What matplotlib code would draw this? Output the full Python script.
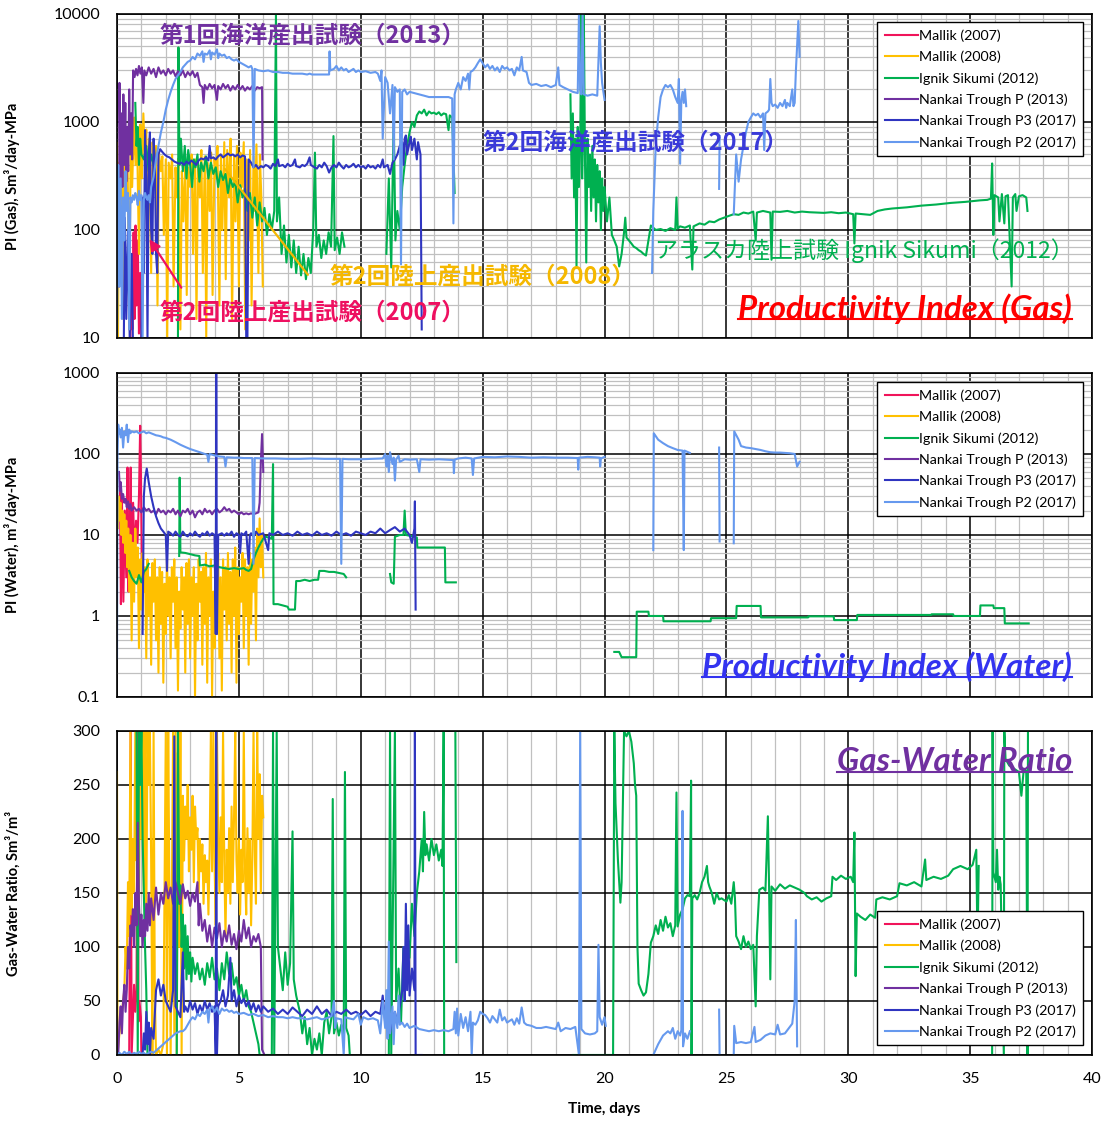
import matplotlib
matplotlib.use("Agg")
import matplotlib.pyplot as plt
from matplotlib.ticker import MultipleLocator, LogLocator, NullFormatter, FuncFormatter
from matplotlib.lines import Line2D

plt.rcParams["font.family"] = ["Lato", "Noto Sans CJK JP", "DejaVu Sans"]

NA = float("nan")

# ---------------- series (time [days], value) ----------------
names = ["Mallik (2007)", "Mallik (2008)", "Ignik Sikumi (2012)",
         "Nankai Trough P (2013)", "Nankai Trough P3 (2017)", "Nankai Trough P2 (2017)"]
colors = ["#f0145a", "#ffc000", "#00b050", "#7030a0", "#2f35c0", "#6699ee"]

# PI (Gas)
gas_mallik07 = [(0.55, 10), (0.6, 60), (0.63, 12), (0.68, 95), (0.72, 15), (0.76, 110), (0.8, 20),
                (0.85, 80), (0.9, 11), (0.95, 40), (1.0, 10)]
gas_mallik08 = [(0.00, 640), (0.04, 10), (0.08, 420), (0.12, 180), (0.18, 700), (0.25, 15), (0.30, 550),
                (0.36, 300), (0.42, 900), (0.50, 12), (0.56, 600), (0.62, 250), (0.70, 1100), (0.76, 400),
                (0.82, 800), (0.90, 60), (0.96, 950), (1.02, 300), (1.08, 1200), (1.14, 500), (1.20, 850),
                (1.26, 150), (1.32, 700), (1.40, 40), (1.46, 650), (1.52, 250), (1.60, 600), (1.66, 20),
                (1.72, 520), (1.80, 350), (1.86, 480), (1.92, 90), (2.00, 450), (2.06, 10), (2.12, 420),
                (2.20, 300), (2.26, 500), (2.32, 30), (2.40, 380), (2.46, 200), (2.52, 460), (2.60, 12),
                (2.66, 350), (2.72, 120), (2.80, 420), (2.86, 25), (2.92, 380), (3.00, 250), (3.06, 500),
                (3.12, 60), (3.20, 450), (3.26, 15), (3.32, 400), (3.40, 200), (3.46, 550), (3.52, 40),
                (3.60, 480), (3.66, 10), (3.72, 420), (3.80, 150), (3.86, 520), (3.92, 25), (4.00, 460),
                (4.06, 300), (4.12, 600), (4.20, 20), (4.26, 500), (4.32, 100), (4.40, 650), (4.46, 35),
                (4.52, 550), (4.60, 200), (4.66, 700), (4.72, 15), (4.80, 480), (4.86, 120), (4.92, 600),
                (5.00, 30), (5.06, 520), (5.12, 250), (5.20, 650), (5.26, 12), (5.32, 450), (5.40, 80),
                (5.46, 550), (5.52, 20), (5.60, 480), (5.66, 150), (5.72, 620), (5.80, 40), (5.86, 500),
                (5.92, 200), (5.98, 30)]
gas_ignik = [(0.75, 1500), (0.8, 600), (0.85, 900), (0.9, 400), (0.95, 700), (1.0, 500), (1.1, 450),
             (1.2, 600), (1.3, 350), (1.4, 500), (1.5, 400), (NA, NA),
             (2.50, 10), (2.52, 4900), (2.56, 400), (2.62, 700), (2.70, 350), (2.78, 600), (2.85, 300),
             (2.92, 550), (3.00, 400), (3.08, 250), (3.15, 450), (3.22, 380), (3.30, 500), (3.38, 280),
             (3.45, 420), (3.55, 350), (3.65, 480), (3.75, 300), (3.85, 420), (3.95, 330), (4.05, 380),
             (4.15, 250), (4.25, 350), (4.35, 290), (4.45, 330), (4.55, 220), (4.65, 300), (4.75, 250),
             (4.85, 280), (4.95, 180), (5.05, 260), (5.15, 200), (5.25, 240), (5.35, 150), (5.45, 220),
             (5.55, 130), (5.65, 200), (5.75, 110), (5.85, 180), (5.95, 120), (6.05, 160), (6.15, 90),
             (6.25, 140), (6.35, 100), (6.45, 150), (6.52, 10000), (6.56, 120), (6.65, 200), (6.75, 60),
             (6.85, 110), (6.95, 50), (7.05, 90), (7.15, 45), (7.25, 80), (7.35, 40), (7.45, 70),
             (7.55, 38), (7.65, 60), (7.75, 35), (7.85, 55), (7.95, 40), (8.05, 100), (8.12, 520),
             (8.18, 70), (8.28, 90), (8.38, 55), (8.48, 80), (8.58, 60), (8.68, 95), (8.78, 70),
             (8.88, 740), (8.93, 65), (9.03, 85), (9.13, 60), (9.23, 95), (9.33, 70), (NA, NA),
             (11.05, 60), (11.15, 300), (11.25, 45), (11.35, 1200), (11.42, 80), (11.5, 150), (11.6, 100),
             (11.7, 250), (11.8, 400), (11.9, 600), (12.0, 800), (12.1, 1000), (12.2, 900), (12.3, 1150),
             (12.4, 1250), (12.5, 1200), (12.6, 1300), (12.7, 1150), (12.8, 1250), (12.9, 1200),
             (13.0, 1220), (13.1, 1180), (13.2, 1230), (13.3, 1150), (13.4, 1200), (13.5, 1180),
             (13.6, 840), (13.65, 1150), (13.75, 1100), (13.85, 220), (NA, NA),
             (18.6, 1800), (18.65, 300), (18.7, 1200), (18.75, 200), (18.8, 700), (18.85, 46), (18.9, 900),
             (18.95, 250), (19.0, 600), (19.05, 10000), (19.08, 300), (19.12, 800), (19.15, 10000),
             (19.2, 400), (19.25, 50), (19.3, 700), (19.35, 250), (19.4, 500), (19.45, 150), (19.5, 600),
             (19.55, 200), (19.6, 450), (19.65, 120), (19.7, 400), (19.75, 180), (19.8, 350), (19.85, 100),
             (19.9, 300), (19.95, 150), (20.0, 250), (20.1, 120), (20.2, 200), (20.3, 90), (20.4, 80),
             (20.5, 70), (20.6, 46), (20.7, 60), (20.8, 95), (20.85, 130), (20.9, 85), (21.0, 80),
             (21.1, 75), (21.2, 70), (21.3, 68), (21.4, 65), (21.5, 63), (21.6, 60), (21.7, 58),
             (21.8, 80), (21.9, 110), (22.0, 105), (22.1, 100), (22.3, 102), (22.5, 98), (22.7, 104),
             (22.9, 100), (22.95, 200), (23.0, 103), (23.1, 108), (23.3, 105), (23.5, 110), (23.6, 43),
             (23.65, 108), (23.9, 115), (24.1, 112), (24.3, 120), (24.5, 118), (24.7, 125), (24.9, 130),
             (25.1, 135), (25.3, 140), (25.5, 138), (25.7, 145), (25.9, 142), (26.1, 148), (26.2, 80),
             (26.25, 145), (26.5, 150), (26.8, 145), (26.85, 53), (26.9, 148), (27.2, 147), (27.5, 150),
             (27.8, 145), (28.1, 148), (28.4, 146), (28.7, 145), (29.0, 144), (29.3, 146), (29.6, 143),
             (29.9, 145), (30.2, 140), (30.25, 75), (30.3, 142), (30.6, 140), (30.9, 138), (31.2, 150),
             (31.5, 155), (31.8, 158), (32.1, 160), (32.4, 162), (32.7, 165), (33.0, 168), (33.3, 170),
             (33.6, 172), (33.9, 175), (34.2, 178), (34.5, 180), (34.8, 182), (35.1, 185), (35.4, 188),
             (35.7, 190), (35.85, 195), (35.9, 413), (35.95, 90), (36.0, 210), (36.15, 200), (36.2, 120),
             (36.3, 215), (36.4, 115), (36.45, 205), (36.55, 210), (36.7, 30), (36.75, 200),
             (36.85, 215), (36.9, 150), (37.0, 205), (37.15, 210), (37.3, 200), (37.35, 150)]
gas_nankai_p = [(0.08, 30), (0.1, 2300), (0.14, 300), (0.18, 1200), (0.22, 250), (0.26, 1800), (0.3, 400),
                (0.34, 1500), (0.38, 280), (0.42, 900), (0.46, 350), (0.5, 2000), (0.54, 500), (0.58, 1200),
                (0.62, 450), (0.66, 3000), (0.72, 2600), (0.78, 3100), (0.84, 2700), (0.9, 3300),
                (0.96, 2800), (1.02, 3200), (1.08, 1500), (1.12, 3000), (1.2, 2700), (1.3, 3200),
                (1.4, 2800), (1.5, 3100), (1.6, 2600), (1.7, 3200), (1.8, 2800), (1.9, 3000), (2.0, 2700),
                (2.1, 3100), (2.2, 2800), (2.3, 3000), (2.4, 2650), (2.5, 2950), (2.6, 2700), (2.7, 3000),
                (2.8, 2600), (2.9, 2900), (3.0, 2700), (3.1, 2950), (3.2, 2600), (3.3, 2850), (3.4, 2200),
                (3.5, 2100), (3.55, 1500), (3.6, 2200), (3.7, 2000), (3.8, 2250), (3.9, 2050), (4.0, 2200),
                (4.1, 1600), (4.15, 2150), (4.25, 2000), (4.35, 2250), (4.45, 2050), (4.55, 2200),
                (4.65, 1950), (4.75, 2150), (4.85, 2000), (4.95, 2200), (5.05, 2000), (5.15, 2150),
                (5.25, 1950), (5.35, 2100), (5.45, 2000), (5.55, 2150), (5.65, 1950), (5.75, 2100),
                (5.85, 2050), (5.95, 2100), (5.97, 450)]
gas_nankai_p3 = [(0.28, 10), (0.32, 130), (0.38, 15), (0.45, 100), (0.52, 10), (0.6, 60), (0.65, 10),
                 (NA, NA), (1.0, 10), (1.05, 200), (1.1, 40), (1.15, 840), (1.2, 300), (1.25, 10),
                 (1.3, 500), (1.35, 800), (1.4, 100), (1.45, 60), (1.5, 700), (1.55, 450), (1.6, 60),
                 (1.65, 40), (1.7, 500), (1.77, 560), (1.85, 530), (1.95, 500), (2.05, 480), (2.15, 470),
                 (2.25, 450), (2.35, 430), (2.45, 420), (2.55, 410), (2.65, 420), (2.75, 400), (2.85, 430),
                 (2.95, 410), (3.05, 440), (3.15, 420), (3.25, 400), (3.35, 440), (3.45, 460), (3.55, 450),
                 (3.65, 470), (3.75, 440), (3.8, 600), (3.85, 460), (3.95, 470), (4.05, 450), (4.15, 480),
                 (4.25, 500), (4.35, 470), (4.45, 490), (4.55, 510), (4.65, 490), (4.75, 500), (4.85, 480),
                 (4.95, 500), (5.05, 470), (5.15, 490), (5.25, 480), (5.3, 10), (5.35, 10), (5.4, 450),
                 (5.5, 420), (5.6, 380), (5.7, 400), (5.8, 370), (5.9, 390), (6.0, 380), (6.1, 400),
                 (6.2, 390), (6.3, 370), (6.4, 410), (6.5, 390), (6.6, 450), (6.65, 390), (6.8, 400),
                 (6.9, 380), (7.0, 410), (7.1, 390), (7.2, 400), (7.3, 450), (7.35, 390), (7.5, 380),
                 (7.6, 400), (7.7, 390), (7.8, 410), (7.9, 470), (7.95, 400), (8.1, 380), (8.2, 370),
                 (8.3, 400), (8.4, 380), (8.5, 420), (8.6, 390), (8.7, 340), (8.8, 380), (8.9, 400),
                 (9.0, 380), (9.1, 420), (9.2, 390), (9.3, 370), (9.4, 400), (9.5, 380), (9.6, 390),
                 (9.7, 410), (9.8, 380), (9.9, 400), (10.0, 380), (10.1, 390), (10.2, 370), (10.3, 400),
                 (10.4, 380), (10.5, 390), (10.6, 370), (10.7, 400), (10.8, 380), (10.9, 450), (10.95, 380),
                 (11.1, 400), (11.2, 330), (11.3, 420), (11.4, 450), (11.5, 500), (11.6, 600), (11.7, 650),
                 (11.75, 400), (11.8, 700), (11.85, 750), (11.9, 500), (12.0, 650), (12.05, 730),
                 (12.1, 550), (12.2, 700), (12.3, 450), (12.35, 650), (12.45, 500), (12.5, 12)]
gas_nankai_p2 = [(0.0, 10), (0.05, 400), (0.1, 30), (0.15, 300), (0.2, 15), (0.25, 200), (0.3, 80),
                 (0.35, 350), (0.4, 150), (0.45, 220), (0.5, 12), (0.55, 200), (0.6, 180), (0.65, 210),
                 (0.7, 190), (0.75, 220), (0.8, 200), (0.85, 170), (0.9, 230), (0.95, 190), (1.0, 210),
                 (1.05, 10), (1.1, 190), (1.15, 220), (1.2, 200), (1.25, 190), (1.3, 210), (1.35, 180),
                 (1.4, 250), (1.5, 310), (1.6, 450), (1.7, 600), (1.8, 800), (1.9, 1000), (2.0, 1300),
                 (2.1, 1600), (2.2, 1900), (2.3, 2200), (2.4, 2500), (2.5, 2700), (2.6, 2900), (2.7, 3200),
                 (2.8, 3400), (2.9, 3600), (3.0, 3700), (3.1, 4000), (3.2, 3800), (3.3, 4300), (3.4, 4100),
                 (3.5, 4500), (3.55, 3600), (3.6, 4300), (3.7, 4200), (3.8, 4600), (3.85, 3800),
                 (3.9, 4400), (4.0, 4200), (4.1, 4700), (4.15, 3900), (4.2, 4300), (4.3, 4100), (4.4, 4200),
                 (4.5, 3900), (4.6, 4000), (4.7, 3800), (4.8, 3700), (4.9, 3800), (5.0, 3600), (5.1, 3500),
                 (5.2, 3400), (5.3, 3300), (5.4, 3200), (5.5, 3300), (5.55, 3100), (5.6, 380), (5.65, 3100),
                 (5.8, 3000), (6.0, 2950), (6.2, 3000), (6.4, 2900), (6.6, 2900), (6.8, 2850), (7.0, 2850),
                 (7.2, 2800), (7.4, 2800), (7.6, 2800), (7.8, 2750), (7.9, 2800), (8.0, 2750), (8.2, 2750),
                 (8.4, 2750), (8.6, 2750), (8.7, 2750), (8.72, 4500), (8.75, 3000), (8.9, 3100),
                 (9.0, 3300), (9.1, 3000), (9.2, 3200), (9.3, 3000), (9.4, 3100), (9.5, 2900), (9.6, 3000),
                 (9.7, 3100), (9.8, 2900), (9.9, 3000), (10.0, 2900), (10.2, 2950), (10.4, 2850),
                 (10.6, 2900), (10.7, 2800), (10.8, 2400), (10.85, 3000), (10.9, 700), (11.0, 2600),
                 (11.1, 2300), (11.2, 1200), (11.3, 2200), (11.35, 450), (11.4, 2100), (11.5, 1900),
                 (11.6, 2000), (11.65, 48), (11.7, 1900), (11.8, 2000), (11.9, 1800), (12.0, 1900),
                 (12.2, 1850), (12.4, 1800), (12.6, 1750), (12.8, 1700), (13.0, 1700), (13.2, 1700),
                 (13.4, 1700), (13.6, 1700), (13.75, 1650), (13.8, 115), (13.85, 1800), (13.9, 2000),
                 (14.0, 2300), (14.1, 2000), (14.2, 2600), (14.3, 2400), (14.4, 2800), (14.45, 2000),
                 (14.5, 2900), (14.6, 3000), (14.7, 3200), (14.8, 3500), (14.9, 3800), (15.0, 3500),
                 (15.1, 3200), (15.2, 3400), (15.3, 3100), (15.4, 3300), (15.5, 3000), (15.6, 3200),
                 (15.7, 2900), (15.8, 3300), (15.9, 3100), (16.0, 3200), (16.1, 3000), (16.2, 3100),
                 (16.3, 2700), (16.4, 3200), (16.5, 3000), (16.6, 4000), (16.65, 3000), (16.8, 2900),
                 (16.9, 2300), (17.0, 2200), (17.2, 2250), (17.4, 2150), (17.6, 2200), (17.8, 2100),
                 (18.0, 2200), (18.1, 3200), (18.15, 2200), (18.3, 2100), (18.5, 2000), (18.7, 1900),
                 (18.9, 1850), (18.95, 10000), (19.0, 2000), (19.05, 1800), (19.1, 10000), (19.15, 1800),
                 (19.3, 1750), (19.5, 1800), (19.7, 1750), (19.8, 7700), (19.85, 3500), (19.9, 2300),
                 (20.0, 1600), (NA, NA),
                 (21.95, 40), (22.0, 150), (22.1, 600), (22.2, 1100), (22.3, 1700), (22.4, 2000),
                 (22.5, 2200), (22.6, 2100), (22.7, 2200), (22.8, 2000), (22.9, 1700), (23.0, 1500),
                 (23.05, 2500), (23.1, 410), (23.15, 1600), (23.2, 1900), (23.25, 1500), (23.3, 2000),
                 (23.35, 1400), (NA, NA), (24.7, 240), (24.72, 740), (NA, NA),
                 (25.3, 140), (25.4, 500), (25.5, 280), (25.6, 450), (25.7, 600), (25.8, 800), (25.9, 1000),
                 (26.0, 1100), (26.1, 1200), (26.2, 1150), (26.3, 1190), (26.4, 1100), (26.5, 1200),
                 (26.55, 550), (26.6, 1200), (26.7, 1250), (26.75, 1300), (26.8, 2500), (26.85, 1500),
                 (26.9, 1400), (27.0, 1450), (27.1, 1350), (27.2, 1500), (27.3, 1400), (27.4, 1600),
                 (27.45, 1350), (27.5, 1500), (27.6, 1400), (27.7, 2000), (27.75, 1400), (27.8, 1500),
                 (27.85, 3000), (27.9, 5000), (27.95, 8600), (28.0, 4000)]

# PI (Water)
wat_mallik07 = [(0.12, 40), (0.16, 1.4), (0.2, 30), (0.26, 1.5), (0.32, 20), (0.38, 3), (0.43, 68),
                (0.47, 2), (0.52, 10), (0.56, 68), (0.6, 3), (0.66, 25), (0.72, 5), (0.78, 15), (0.84, 8),
                (0.9, 30), (0.95, 223), (0.98, 60), (1.02, 3)]
wat_mallik08 = [(0.00, 35), (0.03, 12), (0.06, 30), (0.1, 15), (0.14, 25), (0.18, 10), (0.22, 20),
                (0.26, 8), (0.3, 18), (0.34, 6), (0.38, 15), (0.42, 4), (0.46, 12), (0.5, 2), (0.55, 10),
                (0.6, 0.5), (0.65, 8), (0.7, 1.5), (0.75, 12), (0.8, 3), (0.85, 7), (0.9, 0.4), (0.95, 5),
                (1.0, 1.2), (1.05, 6), (1.1, 2), (1.15, 4), (1.2, 0.3), (1.25, 5), (1.3, 1), (1.35, 3),
                (1.4, 0.25), (1.45, 4.5), (1.5, 1.5), (1.55, 5), (1.6, 0.5), (1.65, 3), (1.7, 0.2),
                (1.75, 4), (1.8, 0.8), (1.85, 3.5), (1.9, 0.15), (1.95, 2.5), (2.0, 0.6), (2.05, 5),
                (2.1, 1), (2.15, 3), (2.2, 0.3), (2.25, 4), (2.3, 1.5), (2.35, 5), (2.4, 0.4), (2.45, 3),
                (2.5, 0.12), (2.55, 2), (2.6, 0.7), (2.65, 4), (2.7, 1.2), (2.75, 3), (2.8, 0.2),
                (2.85, 4.5), (2.9, 0.8), (2.95, 5), (3.0, 0.3), (3.05, 3), (3.1, 1), (3.15, 4), (3.2, 0.1),
                (3.25, 2.5), (3.3, 0.5), (3.35, 5), (3.4, 1.5), (3.45, 3.5), (3.5, 0.25), (3.55, 4),
                (3.6, 0.8), (3.65, 6), (3.7, 0.15), (3.75, 3), (3.8, 1), (3.85, 5), (3.9, 0.1), (3.95, 2),
                (4.0, 0.4), (4.05, 4), (4.1, 1.5), (4.15, 6), (4.2, 0.3), (4.25, 3), (4.3, 0.12), (4.35, 5),
                (4.4, 1.2), (4.45, 4), (4.5, 0.5), (4.55, 6), (4.6, 0.8), (4.65, 3.5), (4.7, 0.2), (4.75, 5),
                (4.8, 1), (4.85, 7), (4.9, 0.15), (4.95, 4), (5.0, 0.6), (5.05, 3), (5.1, 1.5), (5.15, 6),
                (5.2, 0.4), (5.25, 5), (5.3, 1), (5.35, 4), (5.4, 0.25), (5.45, 6), (5.5, 0.8), (5.55, 5),
                (5.6, 2), (5.65, 7), (5.7, 0.5), (5.75, 12), (5.8, 3), (5.85, 16), (5.9, 4), (5.95, 10),
                (6.0, 3)]
wat_ignik = [(0.5, 3.6), (0.6, 3.0), (0.7, 2.7), (0.8, 2.5), (0.9, 3.2), (1.0, 2.6), (1.1, 3.5), (1.2, 3.8),
             (1.3, 4.4), (NA, NA),
             (2.55, 5.5), (2.57, 51), (2.6, 6.1), (2.8, 6.0), (3.0, 5.8), (3.2, 5.6), (3.38, 5.5),
             (3.4, 4.2), (3.6, 4.3), (3.8, 4.1), (4.0, 4.2), (4.2, 4.0), (4.4, 3.9), (4.6, 3.8), (4.8, 3.9),
             (5.0, 3.8), (5.2, 3.9), (5.3, 3.7), (5.4, 3.6), (5.5, 3.8), (5.6, 5), (5.7, 6), (5.8, 7),
             (5.9, 8), (6.0, 9), (6.1, 9.5), (6.35, 9), (6.4, 75), (6.42, 1.4), (6.6, 1.4), (6.8, 1.35),
             (7.0, 1.3), (7.05, 1.2), (7.2, 1.2), (7.3, 1.2), (7.35, 2.7), (7.5, 2.7), (7.7, 2.8),
             (7.9, 2.7), (8.1, 2.8), (8.25, 2.8), (8.3, 3.6), (8.5, 3.6), (8.7, 3.5), (8.9, 3.5),
             (9.1, 3.4), (9.3, 3.3), (9.4, 3.0), (NA, NA),
             (11.2, 3.3), (11.25, 2.6), (11.35, 2.5), (11.4, 9.5), (11.6, 10), (11.75, 10), (11.8, 20),
             (11.85, 10), (12.0, 9.8), (12.2, 9.5), (12.3, 9.3), (12.32, 7), (12.6, 7), (12.9, 7),
             (13.2, 7), (13.45, 7), (13.47, 2.6), (13.7, 2.6), (13.9, 2.6), (NA, NA),
             (20.4, 0.36), (20.6, 0.36), (20.7, 0.31), (21.0, 0.31), (21.3, 0.31), (21.32, 1.13),
             (21.8, 1.13), (21.82, 1.0), (22.4, 1.0), (22.42, 0.86), (24.35, 0.86), (24.37, 0.94),
             (25.4, 0.94), (25.42, 1.33), (26.4, 1.33), (26.42, 0.96), (28.35, 0.96), (28.37, 0.99),
             (29.4, 0.99), (29.42, 0.89), (30.35, 0.89), (30.37, 1.03), (33.4, 1.03), (33.42, 1.05),
             (34.3, 1.05), (34.32, 1.0), (35.4, 1.0), (35.42, 1.35), (35.95, 1.35), (35.97, 1.25),
             (36.4, 1.25), (36.42, 0.81), (37.4, 0.81)]
wat_nankai_p = [(0.08, 60), (0.12, 35), (0.15, 45), (0.2, 28), (0.25, 32), (0.3, 25), (0.35, 28), (0.4, 22),
                (0.45, 26), (0.5, 21), (0.55, 24), (0.6, 20), (0.7, 22), (0.8, 20), (0.9, 21), (1.0, 19),
                (1.1, 22), (1.2, 20), (1.3, 21), (1.4, 19), (1.5, 20), (1.6, 18), (1.7, 21), (1.8, 19),
                (1.9, 20), (2.0, 18), (2.1, 20), (2.2, 19), (2.3, 21), (2.4, 18), (2.5, 20), (2.6, 17),
                (2.7, 20), (2.8, 19), (2.9, 21), (3.0, 18), (3.1, 20), (3.2, 16.5), (3.3, 19), (3.4, 20),
                (3.5, 18), (3.6, 21), (3.7, 19), (3.8, 20), (3.9, 18), (4.0, 20), (4.1, 21), (4.2, 19),
                (4.3, 20), (4.4, 22), (4.5, 20), (4.6, 21), (4.7, 19), (4.8, 20), (4.9, 19), (5.0, 18),
                (5.1, 19), (5.2, 18), (5.3, 18.5), (5.4, 18), (5.5, 18.5), (5.6, 18), (5.7, 18.5),
                (5.8, 19), (5.85, 25), (5.9, 80), (5.95, 176), (6.0, 60)]
wat_nankai_p3 = [(1.05, 0.6), (1.1, 30), (1.15, 50), (1.22, 66), (1.3, 45), (1.4, 30), (1.5, 22), (1.6, 17),
                 (1.7, 14), (1.8, 12), (1.9, 11), (2.0, 10), (2.05, 3.6), (2.1, 11), (2.2, 10.5), (2.3, 9.8),
                 (2.4, 11), (2.5, 10), (2.6, 9.5), (2.7, 11), (2.8, 10), (2.9, 9.6), (3.0, 10.5), (3.1, 9.8),
                 (3.2, 11), (3.3, 10), (3.4, 9.5), (3.5, 10.5), (3.6, 10), (3.7, 11), (3.8, 9.8),
                 (3.9, 10.5), (4.0, 10), (4.05, 0.6), (4.07, 1000), (4.1, 0.6), (4.15, 10), (4.3, 10.5),
                 (4.4, 9.8), (4.5, 10.5), (4.6, 10), (4.7, 11), (4.8, 9.5), (4.9, 10.5), (5.0, 10),
                 (5.05, 6), (5.1, 10.5), (5.2, 10), (5.3, 11), (5.4, 4.4), (5.45, 10), (5.5, 10.5),
                 (5.6, 9.5), (5.7, 11), (5.8, 10), (6.0, 10.5), (6.2, 6.5), (6.25, 10.5), (6.4, 10),
                 (6.6, 11), (6.8, 10), (7.0, 10.5), (7.2, 9.8), (7.4, 11), (7.6, 10), (7.8, 10.5),
                 (8.0, 9.8), (8.2, 11), (8.4, 10), (8.6, 10.5), (8.8, 9.8), (9.0, 11), (9.2, 10),
                 (9.4, 10.5), (9.6, 9.8), (9.8, 11), (10.0, 10.5), (10.2, 10), (10.4, 11), (10.6, 10.5),
                 (10.8, 12), (11.0, 10.5), (11.2, 11.5), (11.4, 12.5), (11.6, 11), (11.8, 12), (12.0, 10),
                 (12.1, 8), (12.2, 12), (12.22, 26), (12.25, 1.2)]
wat_nankai_p2 = [(0.0, 0.3), (0.02, 100), (0.05, 230), (0.08, 180), (0.1, 200), (0.15, 160), (0.2, 210),
                 (0.25, 120), (0.3, 190), (0.35, 170), (0.4, 230), (0.45, 140), (0.5, 200), (0.55, 180),
                 (0.6, 190), (0.7, 185), (0.8, 190), (0.9, 180), (1.0, 185), (1.1, 190), (1.2, 180),
                 (1.3, 185), (1.4, 180), (1.5, 175), (1.6, 170), (1.7, 168), (1.8, 165), (1.9, 160),
                 (2.0, 158), (2.2, 150), (2.4, 140), (2.6, 130), (2.8, 122), (3.0, 115), (3.2, 110),
                 (3.4, 105), (3.6, 100), (3.7, 98), (3.75, 80), (3.8, 100), (4.0, 96), (4.2, 93), (4.4, 92),
                 (4.45, 70), (4.5, 91), (4.8, 90), (5.0, 90), (5.2, 89), (5.4, 89), (5.55, 89), (5.6, 4.4),
                 (5.65, 89), (6.0, 88), (6.5, 88), (7.0, 87), (7.5, 87), (8.0, 88), (8.5, 87), (9.0, 87),
                 (9.15, 87), (9.2, 4.4), (9.25, 87), (9.5, 86), (10.0, 86), (10.5, 87), (10.9, 88),
                 (11.0, 100), (11.05, 70), (11.1, 95), (11.15, 60), (11.2, 105), (11.3, 75), (11.35, 90),
                 (11.4, 47), (11.45, 85), (11.55, 95), (11.6, 80), (11.8, 86), (12.0, 85), (12.3, 86),
                 (12.4, 60), (12.45, 86), (12.8, 85), (13.2, 86), (13.5, 85), (13.8, 84), (13.82, 58),
                 (13.85, 85), (14.0, 88), (14.3, 90), (14.55, 88), (14.6, 55), (14.65, 88), (15.0, 92),
                 (15.5, 91), (16.0, 93), (16.5, 92), (17.0, 90), (17.5, 91), (18.0, 90), (18.5, 90),
                 (18.9, 89), (18.92, 64), (18.95, 90), (19.3, 92), (19.6, 91), (19.8, 90), (19.82, 70),
                 (19.85, 88), (20.0, 92), (NA, NA),
                 (22.0, 6.5), (22.02, 180), (22.2, 150), (22.4, 136), (22.6, 125), (22.8, 118), (23.0, 112),
                 (23.2, 110), (23.25, 6.5), (23.28, 110), (23.5, 103), (NA, NA),
                 (24.7, 120), (24.72, 8.3), (NA, NA),
                 (25.3, 7.9), (25.32, 190), (25.5, 150), (25.6, 125), (25.8, 120), (26.0, 118), (26.2, 115),
                 (26.4, 112), (26.6, 108), (26.8, 105), (27.0, 104), (27.2, 104), (27.4, 103), (27.6, 102),
                 (27.8, 100), (27.9, 70), (28.0, 80)]

# Gas-Water Ratio
gwr_mallik07 = [(0.5, 0), (0.56, 300), (0.6, 0), (0.7, 65), (0.75, 40), (0.8, 60), (0.85, 300), (0.88, 31),
                (0.92, 50), (0.98, 35), (1.0, 0)]
gwr_mallik08 = [(0.0, 262), (0.02, 0), (0.1, 20), (0.2, 40), (0.3, 60), (0.35, 100), (0.4, 80), (0.45, 160),
                (0.5, 110), (0.55, 300), (0.6, 130), (0.65, 200), (0.7, 150), (0.75, 300), (0.8, 180),
                (0.85, 250), (0.9, 140), (0.95, 300), (1.0, 200), (1.05, 300), (1.1, 150), (1.15, 300),
                (1.2, 120), (1.25, 300), (1.3, 250), (1.35, 300), (1.4, 180), (1.45, 0), (1.5, 300),
                (1.55, 60), (1.6, 0), (1.7, 5), (1.8, 0), (1.9, 10), (2.0, 300), (2.05, 0), (2.1, 300),
                (2.15, 150), (2.2, 0), (2.3, 300), (2.35, 20), (2.4, 300), (2.45, 0), (2.5, 280),
                (2.55, 100), (2.6, 300), (2.65, 0), (2.7, 240), (2.75, 180), (2.8, 230), (2.85, 200),
                (2.9, 250), (2.95, 170), (3.0, 220), (3.05, 190), (3.1, 240), (3.15, 160), (3.2, 230),
                (3.25, 200), (3.3, 210), (3.35, 150), (3.4, 200), (3.45, 170), (3.5, 195), (3.55, 140),
                (3.6, 185), (3.65, 160), (3.7, 180), (3.75, 130), (3.8, 190), (3.85, 300), (3.9, 170),
                (3.95, 300), (4.0, 180), (4.05, 120), (4.1, 300), (4.15, 200), (4.2, 150), (4.25, 220),
                (4.3, 160), (4.35, 300), (4.4, 180), (4.45, 110), (4.5, 190), (4.55, 150), (4.6, 210),
                (4.65, 140), (4.7, 230), (4.75, 160), (4.8, 220), (4.85, 300), (4.9, 180), (4.95, 150),
                (5.0, 200), (5.05, 130), (5.1, 190), (5.15, 160), (5.2, 300), (5.25, 170), (5.3, 130),
                (5.35, 210), (5.4, 150), (5.45, 200), (5.5, 120), (5.55, 180), (5.6, 300), (5.65, 190),
                (5.7, 140), (5.75, 300), (5.8, 200), (5.85, 260), (5.9, 150), (5.95, 240), (6.0, 220)]
gwr_ignik = [(0.8, 300), (0.85, 0), (0.9, 300), (0.95, 250), (1.0, 300), (1.05, 200), (1.1, 150),
             (1.15, 100), (1.2, 60), (1.25, 0), (NA, NA),
             (2.45, 0), (2.5, 300), (2.55, 140), (2.6, 157), (2.65, 100), (2.7, 130), (2.75, 80), (2.8, 120),
             (2.85, 70), (2.9, 110), (2.95, 75), (3.0, 95), (3.05, 68), (3.1, 90), (3.2, 75), (3.3, 85),
             (3.4, 70), (3.5, 80), (3.6, 65), (3.7, 85), (3.8, 72), (3.9, 90), (4.0, 70), (4.1, 80),
             (4.2, 60), (4.3, 85), (4.4, 70), (4.5, 95), (4.6, 75), (4.7, 85), (4.8, 65), (4.9, 72),
             (5.0, 55), (5.1, 65), (5.2, 50), (5.3, 60), (5.4, 45), (5.5, 40), (5.6, 30), (5.7, 20),
             (5.8, 10), (5.85, 0), (6.35, 0), (6.4, 300), (6.45, 0), (6.55, 300), (6.6, 100), (6.7, 80),
             (6.8, 60), (6.9, 95), (7.0, 65), (7.1, 85), (7.2, 207), (7.25, 70), (7.35, 55), (7.5, 40),
             (7.6, 20), (7.7, 35), (7.8, 10), (7.9, 25), (8.0, 0), (8.1, 15), (8.2, 5), (8.3, 20),
             (8.4, 0), (8.5, 30), (8.6, 40), (8.7, 20), (8.8, 35), (8.85, 237), (8.9, 20), (9.0, 30),
             (9.1, 18), (9.2, 28), (9.3, 20), (9.35, 262), (9.4, 25), (9.5, 18), (9.55, 0), (NA, NA),
             (11.15, 0), (11.2, 300), (11.25, 0), (11.4, 300), (11.45, 50), (11.55, 80), (11.65, 30),
             (11.75, 100), (11.8, 60), (11.9, 117), (12.0, 90), (12.1, 140), (12.2, 110), (12.3, 150),
             (12.4, 170), (12.45, 185), (12.5, 200), (12.55, 170), (12.6, 225), (12.65, 185),
             (12.7, 195), (12.8, 180), (12.9, 200), (13.0, 185), (13.1, 195), (13.2, 180), (13.3, 190),
             (13.35, 175), (13.4, 300), (13.42, 0), (NA, NA), (13.88, 300), (13.92, 86), (NA, NA),
             (18.7, 0), (20.35, 0), (20.4, 300), (20.45, 233), (20.55, 180), (20.65, 141), (20.7, 160),
             (20.8, 300), (20.9, 295), (21.0, 300), (21.1, 290), (21.2, 270), (21.25, 250), (21.3, 240),
             (21.35, 100), (21.4, 66), (21.5, 60), (21.6, 55), (21.7, 58), (21.8, 75), (21.9, 104),
             (22.0, 110), (22.1, 120), (22.2, 112), (22.3, 125), (22.4, 115), (22.5, 128), (22.6, 118),
             (22.7, 122), (22.8, 110), (22.9, 120), (22.95, 243), (23.0, 119), (23.1, 130), (23.2, 135),
             (23.3, 145), (23.4, 148), (23.5, 147), (23.55, 254), (23.57, 0), (23.6, 145), (23.7, 148),
             (23.8, 144), (23.9, 150), (24.0, 160), (24.1, 165), (24.2, 175), (24.25, 160), (24.3, 156),
             (24.4, 150), (24.5, 140), (24.6, 150), (24.7, 144), (24.8, 145), (25.0, 142), (25.1, 148),
             (25.2, 140), (25.3, 160), (25.35, 145), (25.4, 110), (25.5, 105), (25.6, 98), (25.7, 110),
             (25.8, 100), (25.9, 105), (26.0, 98), (26.1, 102), (26.2, 45), (26.25, 110), (26.35, 153),
             (26.5, 155), (26.6, 152), (26.7, 221), (26.75, 155), (26.8, 70), (26.85, 156), (27.0, 152),
             (27.2, 158), (27.4, 154), (27.6, 157), (27.8, 155), (28.0, 153), (28.2, 150), (28.3, 147),
             (28.5, 144), (28.7, 146), (28.9, 142), (29.1, 145), (29.3, 147), (29.35, 165), (29.5, 162),
             (29.7, 166), (29.9, 163), (30.1, 165), (30.2, 160), (30.25, 206), (30.3, 73), (30.35, 131),
             (30.5, 128), (30.7, 125), (30.9, 130), (31.1, 127), (31.15, 144), (31.4, 146), (31.7, 144),
             (32.0, 147), (32.1, 159), (32.4, 157), (32.7, 160), (33.0, 156), (33.15, 181), (33.2, 162),
             (33.5, 165), (33.8, 163), (34.1, 166), (34.3, 172), (34.6, 175), (34.9, 172), (35.1, 176),
             (35.25, 190), (35.3, 100), (35.35, 175), (NA, NA),
             (35.9, 0), (35.92, 300), (35.95, 169), (36.05, 160), (36.1, 190), (36.15, 153), (36.2, 165),
             (36.25, 158), (36.38, 0), (36.4, 300), (36.45, 274), (36.6, 268), (36.8, 265), (37.0, 262),
             (37.1, 240), (37.2, 265), (37.3, 263), (37.35, 0), (37.37, 300)]
gwr_nankai_p = [(0.05, 0), (0.1, 30), (0.15, 45), (0.2, 20), (0.25, 50), (0.3, 65), (0.35, 40), (0.4, 60),
                (0.45, 100), (0.5, 80), (0.55, 120), (0.6, 110), (0.65, 135), (0.7, 100), (0.75, 150),
                (0.8, 120), (0.85, 215), (0.9, 140), (0.95, 110), (1.0, 130), (1.05, 100), (1.1, 125),
                (1.15, 110), (1.2, 140), (1.25, 115), (1.3, 150), (1.35, 120), (1.4, 145), (1.5, 125),
                (1.6, 155), (1.7, 130), (1.8, 150), (1.9, 140), (2.0, 160), (2.1, 145), (2.2, 155),
                (2.3, 140), (2.4, 160), (2.5, 150), (2.6, 140), (2.7, 158), (2.8, 145), (2.9, 152),
                (3.0, 138), (3.1, 150), (3.2, 142), (3.3, 160), (3.35, 120), (3.4, 140), (3.5, 115),
                (3.6, 125), (3.7, 105), (3.8, 120), (3.9, 100), (4.0, 118), (4.1, 108), (4.2, 122),
                (4.3, 100), (4.4, 115), (4.5, 105), (4.6, 120), (4.7, 102), (4.8, 112), (4.9, 98),
                (5.0, 115), (5.1, 105), (5.2, 125), (5.3, 108), (5.4, 118), (5.5, 100), (5.6, 110),
                (5.7, 105), (5.8, 112), (5.9, 100), (5.95, 5), (6.05, 0)]
gwr_nankai_p3 = [(1.05, 0), (1.1, 20), (1.15, 5), (1.2, 40), (1.25, 10), (1.3, 30), (1.35, 0), (1.4, 25),
                 (1.5, 15), (1.6, 60), (1.7, 70), (1.8, 55), (1.9, 65), (2.0, 50), (2.1, 45), (2.2, 40),
                 (2.3, 60), (2.35, 295), (2.4, 45), (2.5, 40), (2.6, 35), (2.7, 95), (2.75, 40), (2.8, 45),
                 (2.9, 40), (3.0, 50), (3.1, 42), (3.2, 48), (3.3, 38), (3.4, 46), (3.5, 40), (3.6, 50),
                 (3.7, 42), (3.8, 48), (3.9, 40), (4.0, 45), (4.05, 0), (4.07, 300), (4.1, 0), (4.15, 45),
                 (4.25, 50), (4.35, 60), (4.45, 45), (4.55, 55), (4.65, 90), (4.7, 50), (4.8, 60),
                 (4.9, 45), (5.0, 55), (5.1, 48), (5.2, 52), (5.3, 45), (5.4, 50), (5.5, 42), (5.6, 48),
                 (5.7, 40), (5.8, 46), (5.9, 40), (6.0, 45), (6.2, 40), (6.4, 43), (6.6, 38), (6.8, 42),
                 (7.0, 38), (7.2, 44), (7.4, 40), (7.6, 36), (7.8, 42), (8.0, 38), (8.2, 45), (8.4, 38),
                 (8.6, 42), (8.8, 36), (9.0, 40), (9.2, 38), (9.4, 42), (9.6, 38), (9.8, 40), (10.0, 37),
                 (10.2, 41), (10.4, 36), (10.6, 40), (10.8, 38), (10.9, 55), (11.0, 30), (11.1, 40),
                 (11.2, 20), (11.3, 35), (11.4, 40), (11.5, 30), (11.6, 45), (11.7, 60), (11.75, 100),
                 (11.8, 50), (11.85, 140), (11.9, 60), (11.95, 120), (12.0, 55), (12.1, 80), (12.2, 60),
                 (12.22, 300), (12.25, 0), (12.5, 0)]
gwr_nankai_p2 = [(0.0, 0), (0.1, 2), (0.2, 0), (0.3, 3), (0.4, 1), (0.5, 3), (0.6, 0), (0.7, 2), (0.8, 1),
                 (0.9, 3), (1.0, 1), (1.1, 2), (1.2, 0), (1.3, 2), (1.4, 3), (1.5, 2), (1.6, 4), (1.7, 6),
                 (1.8, 8), (1.9, 10), (2.0, 12), (2.1, 14), (2.2, 16), (2.3, 18), (2.4, 20), (2.5, 21),
                 (2.6, 22), (2.7, 22), (2.8, 24), (2.9, 28), (3.0, 32), (3.1, 35), (3.2, 33), (3.3, 38),
                 (3.4, 36), (3.5, 40), (3.6, 38), (3.7, 42), (3.75, 30), (3.8, 42), (3.9, 45), (4.0, 40),
                 (4.1, 44), (4.2, 38), (4.3, 43), (4.4, 41), (4.5, 42), (4.6, 40), (4.7, 41), (4.8, 39),
                 (4.9, 40), (5.0, 38), (5.2, 39), (5.4, 37), (5.6, 38), (5.8, 36), (6.0, 37), (6.2, 35),
                 (6.4, 36), (6.6, 35), (6.8, 35), (7.0, 34), (7.2, 35), (7.4, 34), (7.6, 34), (7.8, 33),
                 (8.0, 34), (8.2, 35), (8.4, 33), (8.6, 34), (8.8, 36), (8.9, 50), (8.95, 25), (9.0, 34),
                 (9.2, 33), (9.3, 0), (9.35, 35), (9.5, 34), (9.7, 33), (9.9, 38), (10.0, 28), (10.1, 35),
                 (10.3, 33), (10.5, 34), (10.7, 32), (10.8, 20), (10.9, 50), (11.0, 25), (11.05, 60),
                 (11.1, 15), (11.15, 105), (11.2, 20), (11.3, 45), (11.35, 10), (11.4, 40), (11.5, 25),
                 (11.55, 55), (11.6, 28), (11.7, 30), (11.8, 26), (11.9, 29), (12.0, 25), (12.2, 27),
                 (12.4, 24), (12.6, 23), (12.8, 22), (13.0, 23), (13.2, 22), (13.4, 23), (13.6, 22),
                 (13.8, 24), (13.85, 40), (13.9, 20), (13.95, 43), (14.0, 18), (14.1, 38), (14.2, 25),
                 (14.3, 35), (14.4, 22), (14.5, 40), (14.55, 0), (14.6, 30), (14.7, 28), (14.8, 32),
                 (14.9, 40), (15.0, 38), (15.1, 37), (15.2, 34), (15.3, 30), (15.4, 36), (15.5, 33),
                 (15.6, 30), (15.7, 42), (15.8, 32), (15.9, 35), (16.0, 30), (16.2, 33), (16.3, 28),
                 (16.4, 34), (16.5, 29), (16.6, 44), (16.7, 30), (16.8, 28), (17.0, 27), (17.2, 25),
                 (17.4, 25), (17.6, 26), (17.8, 25), (18.0, 24), (18.1, 30), (18.2, 22), (18.4, 25),
                 (18.6, 24), (18.8, 26), (18.95, 0), (19.0, 300), (19.05, 24), (19.2, 20), (19.4, 19),
                 (19.6, 20), (19.7, 22), (19.75, 102), (19.8, 35), (19.9, 28), (20.0, 35), (20.05, 27),
                 (NA, NA),
                 (22.0, 0), (22.2, 10), (22.4, 18), (22.6, 22), (22.7, 20), (22.8, 25), (22.9, 15),
                 (23.0, 22), (23.1, 18), (23.15, 23), (23.2, 226), (23.22, 8), (23.3, 20), (23.4, 15),
                 (23.5, 22), (NA, NA), (24.7, 42), (24.72, 0), (NA, NA),
                 (25.3, 0), (25.32, 27), (25.4, 11), (25.6, 12), (25.8, 11), (26.0, 12), (26.15, 26),
                 (26.2, 12), (26.4, 14), (26.6, 18), (26.8, 20), (27.0, 19), (27.1, 28), (27.2, 19),
                 (27.4, 20), (27.5, 23), (27.6, 26), (27.7, 29), (27.8, 50), (27.85, 125), (27.9, 8)]

gas_series = [gas_mallik07, gas_mallik08, gas_ignik, gas_nankai_p, gas_nankai_p3, gas_nankai_p2]
wat_series = [wat_mallik07, wat_mallik08, wat_ignik, wat_nankai_p, wat_nankai_p3, wat_nankai_p2]
gwr_series = [gwr_mallik07, gwr_mallik08, gwr_ignik, gwr_nankai_p, gwr_nankai_p3, gwr_nankai_p2]

# ---------------- figure ----------------
fig = plt.figure(figsize=(11.05, 11.24), dpi=100)
left, width, height = 0.1059, 0.8824, 0.2883
ax_gas = fig.add_axes([left, 0.6993, width, height])
ax_wat = fig.add_axes([left, 0.3799, width, height])
ax_gwr = fig.add_axes([left, 0.0614, width, height])


def fmt(v, pos):
    return f"{v:g}"


def style_axis(ax, log):
    ax.set_xlim(0, 40)
    ax.xaxis.set_major_locator(MultipleLocator(5))
    ax.xaxis.set_minor_locator(MultipleLocator(1))
    if log:
        ax.set_yscale("log")
        ax.yaxis.set_major_locator(LogLocator(base=10))
        ax.yaxis.set_minor_locator(LogLocator(base=10, subs=range(2, 10)))
        ax.yaxis.set_minor_formatter(NullFormatter())
        ax.yaxis.set_major_formatter(FuncFormatter(fmt))
        ax.grid(which="minor", axis="both", color="#c0c0c0", lw=0.9)
    else:
        ax.grid(which="minor", axis="x", color="#c0c0c0", lw=0.9)
    ax.grid(which="major", axis="both", color="black", lw=1.1)
    ax.set_axisbelow(True)
    ax.tick_params(which="both", length=0, labelsize=11.5, pad=12)
    for s in ax.spines.values():
        s.set_color("black")
        s.set_linewidth(1.2)


def draw(ax, series):
    for name, color, data in zip(names, colors, series):
        t, v = zip(*data)
        ax.plot(t, v, color=color, lw=1.5, label=name)


draw(ax_gas, gas_series)
draw(ax_wat, wat_series)
draw(ax_gwr, gwr_series)

style_axis(ax_gas, True)
style_axis(ax_wat, True)
style_axis(ax_gwr, False)
ax_gas.set_ylim(10, 10000)
ax_wat.set_ylim(0.1, 1000)
ax_gwr.set_ylim(0, 300)
ax_gwr.yaxis.set_major_locator(MultipleLocator(50))
ax_gas.tick_params(axis="x", labelbottom=False)
ax_wat.tick_params(axis="x", labelbottom=False)

ax_gas.set_ylabel("PI (Gas), Sm³/day-MPa", fontsize=10.5, fontweight="bold")
ax_wat.set_ylabel("PI (Water), m³/day-MPa", fontsize=10.5, fontweight="bold")
ax_gwr.set_ylabel("Gas-Water Ratio, Sm³/m³", fontsize=10.5, fontweight="bold")
for ax in (ax_gas, ax_wat, ax_gwr):
    ax.yaxis.set_label_coords(-0.099, 0.5)
ax_gwr.set_xlabel("Time, days", fontsize=11, fontweight="bold", labelpad=12)

legend_kw = dict(fontsize=10.3, frameon=True, fancybox=False, edgecolor="black", framealpha=1,
                 handlelength=2.3, handletextpad=0.1, labelspacing=0.62, borderpad=0.5,
                 borderaxespad=0)
for ax, loc, anchor in ((ax_gas, "upper right", (0.9907, 0.975)),
                        (ax_wat, "upper right", (0.9907, 0.972)),
                        (ax_gwr, "lower right", (0.9907, 0.03))):
    leg = ax.legend(loc=loc, bbox_to_anchor=anchor, **legend_kw)
    leg.get_frame().set_linewidth(1.0)

# annotations in the gas panel
jp = ["Noto Sans CJK JP", "DejaVu Sans"]
ax_gas.text(1.76, 6300, "第1回海洋産出試験（2013）", color="#7030a0", fontsize=17, fontweight="bold",
            family=jp, va="center", ha="left")
ax_gas.text(15.0, 650, "第2回海洋産出試験（2017）", color="#3a3ad8", fontsize=17, fontweight="bold",
            family=jp, va="center", ha="left")
ax_gas.text(8.74, 36.7, "第2回陸上産出試験（2008）", color="#f5b800", fontsize=17, fontweight="bold",
            family=jp, va="center", ha="left")
ax_gas.text(1.76, 17, "第2回陸上産出試験（2007）", color="#ee1060", fontsize=17, fontweight="bold",
            family=jp, va="center", ha="left")
ax_gas.text(22.07, 65, "アラスカ陸上試験 Ignik Sikumi（2012）", color="#00b050", fontsize=16.6,
            family=jp, va="center", ha="left")
ax_gas.annotate("", xy=(1.27, 86), xytext=(2.7, 27.8),
                arrowprops=dict(arrowstyle="-|>", color="#ee1060", lw=1.6, mutation_scale=16))
ax_gas.annotate("", xy=(4.35, 385), xytext=(7.9, 36.7),
                arrowprops=dict(arrowstyle="-", color="#f5b800", lw=1.6))

titles = [(ax_gas, "Productivity Index (Gas)", "#ff0000", 0.0895),
          (ax_wat, "Productivity Index (Water)", "#3333f0", 0.093),
          (ax_gwr, "Gas-Water Ratio", "#7030a0", 0.905)]
title_texts = []
for ax, txt, col, yfrac in titles:
    tt = ax.text(0.9795, yfrac, txt, transform=ax.transAxes, color=col, fontsize=23.8,
                 fontweight="bold", fontstyle="italic", ha="right", va="center")
    title_texts.append((tt, col))

fig.canvas.draw()
renderer = fig.canvas.get_renderer()
for tt, col in title_texts:
    bb = tt.get_window_extent(renderer)
    y = bb.y0 + 0.16 * bb.height
    fig.add_artist(Line2D([bb.x0 / fig.bbox.width, bb.x1 / fig.bbox.width],
                          [y / fig.bbox.height, y / fig.bbox.height],
                          color=col, lw=1.5, transform=fig.transFigure))

fig.savefig("out.png", dpi=100)
